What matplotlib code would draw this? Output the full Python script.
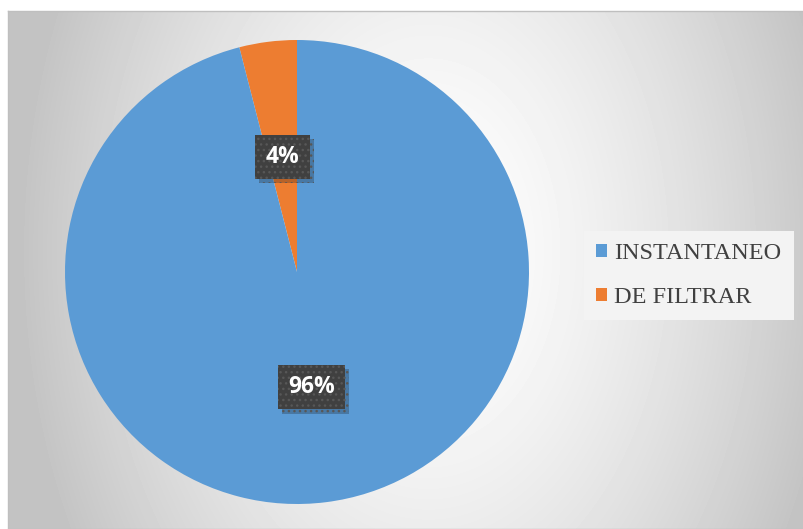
import numpy as np
import matplotlib.pyplot as plt
import matplotlib.patheffects as pe
from matplotlib.patches import Patch

categories = ['INSTANTANEO', 'DE FILTRAR']
values = [96, 4]
colors = ['#5B9BD5', '#ED7D31']

W, H = 804, 529
fig = plt.figure(figsize=(W / 100, H / 100), dpi=100)

# chart area background: soft radial grey gradient
bg = fig.add_axes([8 / W, 0, (W - 8) / W, (H - 11) / H])
yy, xx = np.mgrid[0:518, 0:796]
r = np.sqrt(((xx - 420) / 410.0) ** 2 + ((yy - 240) / 600.0) ** 2)
shade = np.clip(255 - 60 * r ** 1.5, 196, 255) / 255.0
bg.imshow(shade, cmap='gray', vmin=0, vmax=1, aspect='auto', interpolation='bilinear')
bg.set_xticks([])
bg.set_yticks([])
for s in bg.spines.values():
    s.set_color('#bfbfbf')
    s.set_linewidth(1)

# pie: centre (297, 272) px, radius 232 px
cx, cy, rad = 297, 272, 232
ax = fig.add_axes([(cx - rad) / W, (H - cy - rad) / H, 2 * rad / W, 2 * rad / H])
order = [1, 0]
wedges, texts = ax.pie([values[i] for i in order], colors=[colors[i] for i in order],
                       startangle=90, counterclock=True,
                       labels=['%d%%' % values[i] for i in order], labeldistance=0.5,
                       wedgeprops=dict(linewidth=0))
ax.set_xlim(-1, 1)
ax.set_ylim(-1, 1)
for w in wedges:
    w.set_clip_on(False)
for t in texts:
    t.set_ha('center')
    t.set_va('center')
    t.set_color('white')
    t.set_fontsize(16.5)
    t.set_fontweight('bold')
    t.set_family('Open Sans')
    t.set_bbox(dict(boxstyle='square,pad=0.45', facecolor='#404040', edgecolor='#575757',
                    linewidth=0, hatch='...',
                    path_effects=[pe.SimplePatchShadow(offset=(3, -3), alpha=0.25), pe.Normal()]))

handles = [Patch(facecolor=c, edgecolor='none') for c in colors]
leg = fig.legend(handles, categories, loc='upper left',
                 bbox_to_anchor=(591 / W, 1 - 238 / H), frameon=True,
                 prop={'family': 'Liberation Serif', 'size': 17.5},
                 handlelength=0.46, handleheight=0.46, handletextpad=0.3,
                 labelspacing=0.95, borderpad=0.2, borderaxespad=0)
leg.get_frame().set_facecolor('#f3f3f3')
leg.get_frame().set_edgecolor('none')
leg.get_frame().set_boxstyle('square')
leg.get_frame().set_alpha(1)
for t in leg.get_texts():
    t.set_color('#404040')

fig.savefig('out.png', dpi=100)
